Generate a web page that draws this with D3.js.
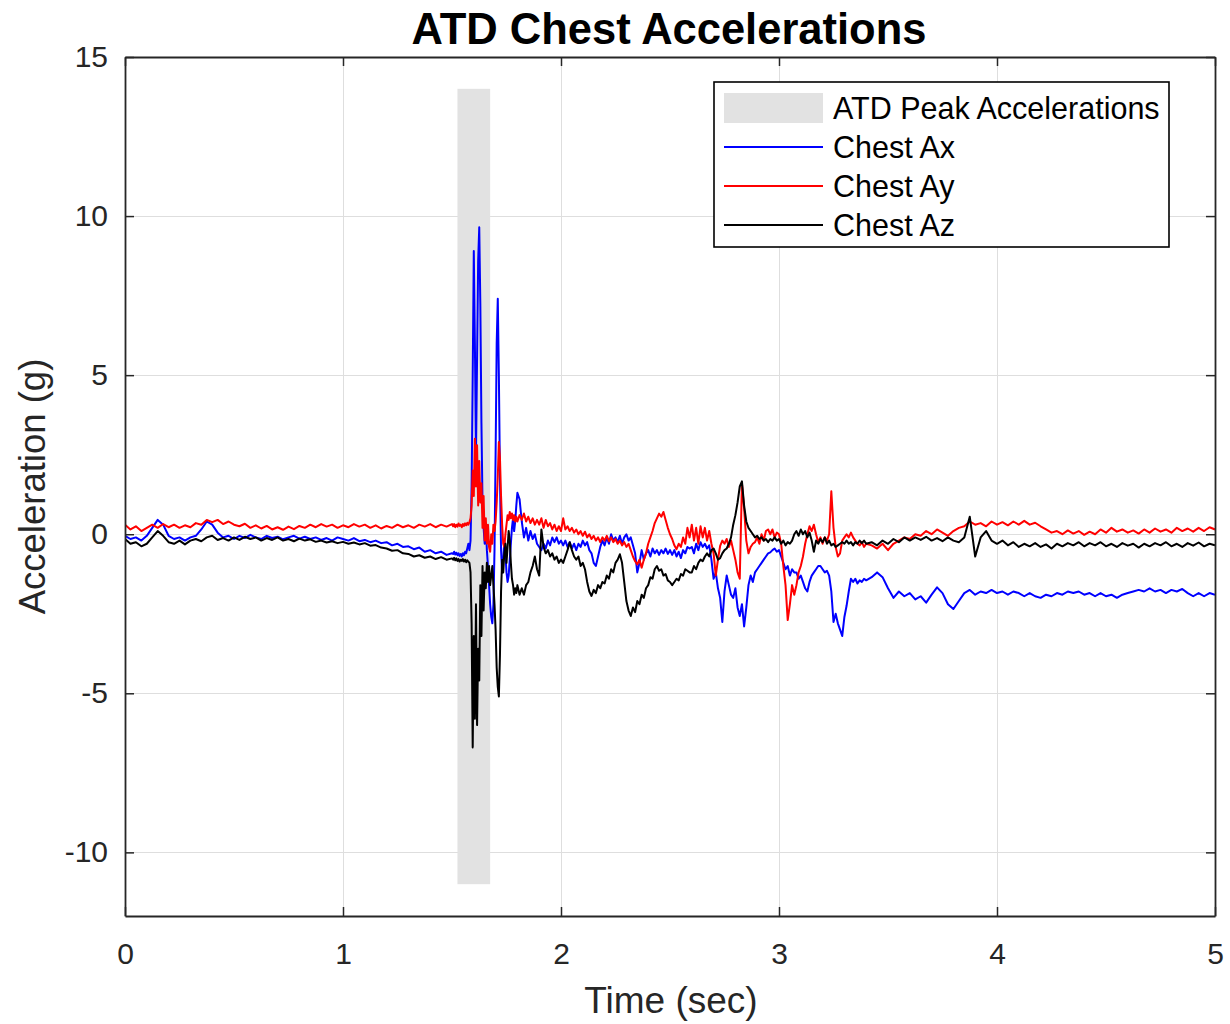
<!DOCTYPE html>
<html>
<head>
<meta charset="utf-8">
<script src="https://cdn.jsdelivr.net/npm/d3@7/dist/d3.min.js"></script>
<style>
  html, body { margin: 0; padding: 0; background: #ffffff; }
  svg { display: block; }
  text { font-family: "Liberation Sans", Arial, Helvetica, sans-serif; }
</style>
</head>
<body>
<svg id="chart" width="1230" height="1024"></svg>
<script>
// ---------------- DATA ----------------
const chartTitle = "ATD Chest Accelerations";
const xLabel = "Time (sec)";
const yLabel = "Acceleration (g)";
const xTicks = [0, 1, 2, 3, 4, 5];
const yTicks = [-10, -5, 0, 5, 10, 15];
const xDomain = [0, 5];
const yDomain = [-12, 15];
const seriesNames = ["Chest Ax", "Chest Ay", "Chest Az"];
const bandName = "ATD Peak Accelerations";
const peakWindow = [1.525, 1.675];   // time span of the shaded band
const peakRange = [-11, 14];         // vertical span of the shaded band

// sample times (s)
const timeA = [0,0.025,0.05,0.075,0.1,0.125,0.15,0.175,0.2,0.225,
  0.25,0.275,0.3,0.325,0.35,0.375,0.4,0.425,0.45,0.475,
  0.5,0.525,0.55,0.575,0.6,0.625,0.65,0.675,0.7,0.725,
  0.75,0.775,0.8,0.825,0.85,0.875,0.9,0.925,0.95,0.975,
  1.0,1.025,1.05,1.075,1.1,1.125,1.15,1.175,1.2,1.225,
  1.25,1.275,1.3,1.325,1.35,1.375,1.4,1.425,1.45,1.475,
  1.5];
const timeB = [1.505,1.51,1.515,1.52,1.525,1.53,1.535,1.54,1.545,1.55,
  1.555,1.56,1.565,1.57,1.575,1.58,1.585,1.59,1.595,1.6,
  1.605,1.61,1.615,1.62,1.625,1.63,1.635,1.64,1.645,1.65,
  1.655,1.66,1.665,1.67,1.675,1.68,1.685,1.69,1.695,1.7,
  1.705,1.71,1.715,1.72,1.725,1.73,1.735,1.74,1.745,1.75,
  1.755,1.76,1.765,1.77,1.775,1.78,1.785,1.79,1.795,1.8];
const timeC = [1.81,1.82,1.83,1.84,1.85,1.86,1.87,1.88,1.89,1.9,
  1.91,1.92,1.93,1.94,1.95,1.96,1.97,1.98,1.99,2.0,
  2.01,2.02,2.03,2.04,2.05,2.06,2.07,2.08,2.09,2.1,
  2.11,2.12,2.13,2.14,2.15,2.16,2.17,2.18,2.19,2.2,
  2.21,2.22,2.23,2.24,2.25,2.26,2.27,2.28,2.29,2.3,
  2.31,2.32,2.33,2.34,2.35,2.36,2.37,2.38,2.39,2.4,
  2.41,2.42,2.43,2.44,2.45,2.46,2.47,2.48,2.49,2.5,
  2.51,2.52,2.53,2.54,2.55,2.56,2.57,2.58,2.59,2.6,
  2.61,2.62,2.63,2.64,2.65,2.66,2.67,2.68,2.69,2.7,
  2.71,2.72,2.73,2.74,2.75,2.76,2.77,2.78,2.79,2.8,
  2.81,2.82,2.83,2.84,2.85,2.86,2.87,2.88,2.89,2.9,
  2.91,2.92,2.93,2.94,2.95,2.96,2.97,2.98,2.99,3.0,
  3.01,3.02,3.03,3.04,3.05,3.06,3.07,3.08,3.09,3.1,
  3.11,3.12,3.13,3.14,3.15,3.16,3.17,3.18,3.19,3.2,
  3.21,3.22,3.23,3.24,3.25,3.26,3.27,3.28,3.29,3.3,
  3.31,3.32,3.33,3.34,3.35,3.36,3.37,3.38,3.39,3.4];
const timeD = [3.425,3.45,3.475,3.5,3.525,3.55,3.575,3.6,3.625,3.65,
  3.675,3.7,3.725,3.75,3.775,3.8,3.825,3.85,3.875,3.9,
  3.925,3.95,3.975,4.0,4.025,4.05,4.075,4.1,4.125,4.15,
  4.175,4.2,4.225,4.25,4.275,4.3,4.325,4.35,4.375,4.4,
  4.425,4.45,4.475,4.5,4.525,4.55,4.575,4.6,4.625,4.65,
  4.675,4.7,4.725,4.75,4.775,4.8,4.825,4.85,4.875,4.9,
  4.925,4.95,4.975,5.0];

// Chest Ax (g)
const axA = [-0.05,-0.15,-0.1,-0.2,-0.05,0.2,0.45,0.3,-0.05,-0.15,
  -0.1,-0.2,-0.1,-0.05,0.15,0.4,0.3,0.05,-0.1,-0.05,
  -0.15,-0.05,-0.12,-0.02,-0.1,-0.15,-0.05,-0.12,-0.08,-0.16,
  -0.1,-0.05,-0.14,-0.08,-0.15,-0.1,-0.18,-0.12,-0.2,-0.1,
  -0.15,-0.2,-0.12,-0.22,-0.18,-0.25,-0.2,-0.28,-0.25,-0.35,
  -0.3,-0.4,-0.38,-0.47,-0.42,-0.55,-0.5,-0.6,-0.55,-0.65,
  -0.6];
const axB = [-0.62,-0.55,-0.64,-0.58,-0.66,-0.6,-0.68,-0.62,-0.7,-0.6,
  -0.66,-0.55,-0.6,-0.45,-0.3,-0.5,-0.2,1.5,5.0,8.9,
  6.0,2.5,5.5,8.6,9.65,7.2,3.5,1.0,0.2,-0.3,
  0.3,-0.5,-1.0,-1.6,-2.2,-2.6,-2.8,-2.2,-0.5,2.5,
  6.0,7.4,5.0,1.8,-0.5,-1.2,-0.8,-0.2,-0.6,-1.2,
  -1.5,-1.3,-0.8,-0.3,0.2,0.5,0.1,0.4,0.9,1.3];
const axC = [1.1,0.4,-0.1,0.2,-0.2,0.1,-0.15,0.0,-0.3,-0.4,
  -0.5,-0.3,-0.45,-0.2,-0.35,-0.1,-0.25,-0.1,-0.3,-0.2,
  -0.35,-0.2,-0.4,-0.25,-0.45,-0.3,-0.5,-0.3,-0.4,-0.2,
  -0.35,-0.25,-0.5,-0.6,-0.9,-1.0,-0.7,-0.4,-0.2,-0.35,
  -0.1,-0.3,0.0,-0.2,-0.1,-0.25,-0.05,-0.3,-0.1,0.0,
  -0.2,-0.1,-0.35,-0.6,-1.2,-0.9,-0.5,-0.8,-0.6,-0.5,
  -0.7,-0.45,-0.6,-0.5,-0.65,-0.5,-0.6,-0.45,-0.62,-0.5,
  -0.65,-0.5,-0.7,-0.55,-0.75,-0.5,-0.6,-0.4,-0.45,-0.4,
  -0.6,-0.3,-0.5,-0.25,-0.4,-0.3,-0.45,-0.35,-0.8,-1.4,
  -1.2,-1.7,-2.0,-2.76,-1.8,-1.3,-1.6,-1.9,-2.0,-1.7,
  -2.3,-2.57,-2.2,-2.9,-2.3,-1.6,-1.3,-1.5,-1.2,-1.1,
  -1.0,-0.9,-0.8,-0.7,-0.6,-0.57,-0.5,-0.45,-0.55,-0.5,
  -0.7,-0.9,-1.1,-1.0,-1.3,-1.1,-1.2,-1.2,-1.4,-1.3,
  -1.5,-1.7,-1.8,-1.5,-1.3,-1.2,-1.1,-1.0,-1.0,-1.1,
  -1.2,-1.15,-1.3,-1.8,-2.76,-2.5,-2.8,-3.0,-3.2,-2.6,
  -2.25,-1.8,-1.4,-1.5,-1.4,-1.55,-1.45,-1.5,-1.4,-1.45];
const axD = [-1.35,-1.2,-1.35,-1.7,-2.0,-1.8,-1.95,-1.85,-2.05,-1.95,
  -2.15,-1.9,-1.67,-1.85,-2.2,-2.35,-2.1,-1.85,-1.75,-1.9,
  -1.8,-1.85,-1.75,-1.85,-1.8,-1.9,-1.8,-1.85,-1.95,-1.85,
  -1.95,-2.0,-1.9,-1.95,-1.85,-1.9,-1.8,-1.85,-1.8,-1.9,
  -1.85,-1.95,-1.85,-1.95,-1.9,-2.0,-1.9,-1.85,-1.8,-1.75,
  -1.8,-1.7,-1.8,-1.75,-1.85,-1.75,-1.8,-1.72,-1.85,-1.95,
  -1.85,-1.95,-1.85,-1.9];

// Chest Ay (g)
const ayA = [0.3,0.15,0.25,0.1,0.2,0.3,0.2,0.32,0.22,0.3,
  0.2,0.28,0.22,0.35,0.3,0.45,0.38,0.45,0.32,0.4,
  0.3,0.25,0.33,0.2,0.28,0.18,0.26,0.15,0.22,0.14,
  0.24,0.16,0.26,0.2,0.3,0.22,0.32,0.24,0.3,0.2,
  0.28,0.22,0.32,0.24,0.3,0.2,0.28,0.18,0.26,0.2,
  0.3,0.22,0.28,0.2,0.3,0.24,0.32,0.22,0.3,0.24,
  0.32];
const ayB = [0.25,0.32,0.22,0.3,0.24,0.34,0.26,0.3,0.22,0.32,
  0.26,0.34,0.28,0.36,0.3,0.38,0.5,0.9,2.0,1.2,
  3.0,1.5,2.8,0.9,2.3,1.0,1.6,0.2,1.2,-0.2,
  0.5,-0.3,0.3,-0.4,-0.55,0.0,-0.3,0.3,0.1,0.4,
  1.0,1.8,2.9,2.4,1.2,0.3,-0.3,-0.4,0.0,0.3,
  0.6,0.45,0.7,0.5,0.65,0.45,0.6,0.4,0.55,0.4];
const ayC = [0.6,0.45,0.65,0.4,0.55,0.35,0.5,0.3,0.45,0.3,
  0.5,0.2,0.45,0.25,0.35,0.15,0.3,0.1,0.25,0.1,
  0.5,0.15,0.25,0.1,0.2,0.05,0.15,0.0,0.1,-0.05,
  0.08,-0.1,0.0,-0.15,-0.05,-0.2,-0.1,-0.25,-0.1,-0.2,
  -0.05,-0.22,-0.1,-0.25,-0.15,-0.3,-0.2,-0.35,-0.25,-0.4,
  -0.3,-0.5,-0.7,-0.85,-0.95,-0.8,-1.05,-0.8,-0.6,-0.3,
  -0.1,0.1,0.35,0.5,0.65,0.55,0.7,0.45,0.2,0.0,
  -0.15,-0.35,-0.47,-0.3,-0.4,-0.1,-0.3,0.2,-0.1,0.3,
  -0.2,0.2,-0.3,0.25,-0.1,0.2,-0.2,0.1,-0.3,-0.6,
  -1.3,-0.8,-0.37,-0.2,-0.3,-0.15,-0.4,-0.2,-0.5,-0.8,
  -1.2,-1.4,1.6,0.8,-0.2,-0.6,-0.4,-0.3,-0.25,-0.1,
  -0.3,0.0,-0.2,0.1,0.15,0.0,0.15,-0.1,0.05,0.0,
  -0.3,-1.0,-1.6,-2.7,-2.2,-1.6,-1.9,-1.6,-1.2,-1.0,
  -0.7,-0.3,0.0,0.25,0.1,0.3,0.0,-0.25,-0.1,-0.3,
  -0.1,-0.2,0.0,1.35,0.2,-0.4,-0.7,-0.6,-0.2,-0.1,
  0.0,-0.1,0.05,-0.1,-0.2,-0.3,-0.35,-0.25,-0.4,-0.3];
const ayD = [-0.35,-0.45,-0.3,-0.5,-0.3,-0.2,-0.1,-0.15,0.0,-0.05,
  0.1,0.0,0.15,0.05,-0.05,0.1,0.2,0.25,0.4,0.3,
  0.35,0.25,0.4,0.3,0.38,0.28,0.4,0.3,0.42,0.3,
  0.36,0.25,0.15,0.05,0.1,0.0,0.12,0.02,0.1,-0.02,
  0.08,0.0,0.15,0.05,0.2,0.08,0.15,0.05,0.12,0.02,
  0.15,0.05,0.18,0.08,0.15,0.05,0.2,0.1,0.18,0.08,
  0.2,0.1,0.22,0.15];

// Chest Az (g)
const azA = [-0.15,-0.3,-0.25,-0.38,-0.3,-0.1,0.1,-0.05,-0.25,-0.3,
  -0.2,-0.32,-0.2,-0.15,-0.22,-0.1,-0.05,-0.18,-0.12,-0.2,
  -0.1,-0.18,-0.08,-0.15,-0.1,-0.2,-0.12,-0.18,-0.1,-0.2,
  -0.15,-0.22,-0.14,-0.2,-0.16,-0.24,-0.2,-0.26,-0.22,-0.28,
  -0.24,-0.3,-0.26,-0.32,-0.28,-0.36,-0.34,-0.42,-0.45,-0.52,
  -0.5,-0.6,-0.62,-0.7,-0.66,-0.74,-0.7,-0.78,-0.72,-0.8,
  -0.76];
const azB = [-0.8,-0.74,-0.82,-0.76,-0.84,-0.78,-0.86,-0.8,-0.84,-0.78,
  -0.86,-0.8,-0.88,-0.82,-0.86,-0.9,-1.2,-2.8,-6.7,-3.2,
  -5.8,-2.2,-6.0,-3.6,-4.6,-1.6,-3.2,-1.0,-2.4,-1.2,
  -1.7,-0.9,-1.5,-1.0,-1.6,-1.3,-1.0,-1.6,-2.2,-3.0,
  -4.2,-4.8,-5.1,-3.8,-1.8,-0.8,-1.2,-0.6,-0.3,-0.9,
  -0.4,0.1,-0.2,-0.9,-1.4,-1.6,-1.9,-1.7,-1.85,-1.6];
const azC = [-1.9,-1.7,-1.9,-1.6,-1.5,-1.2,-1.0,-0.7,-1.1,-1.3,
  0.15,-0.4,-0.6,-0.5,-0.7,-0.6,-0.8,-0.7,-0.9,-0.8,
  -0.9,-0.7,-0.5,-0.25,-0.5,-0.7,-0.8,-0.7,-1.0,-0.9,
  -1.1,-1.5,-1.8,-1.94,-1.75,-1.85,-1.6,-1.7,-1.5,-1.55,
  -1.3,-1.4,-1.1,-1.2,-0.9,-0.8,-0.63,-0.9,-1.5,-2.1,
  -2.4,-2.57,-2.3,-2.45,-2.1,-2.2,-1.9,-2.0,-1.7,-1.6,
  -1.35,-1.4,-1.1,-1.0,-1.15,-1.1,-1.3,-1.25,-1.45,-1.5,
  -1.6,-1.5,-1.4,-1.45,-1.25,-1.3,-1.1,-1.15,-1.2,-1.2,
  -1.0,-1.1,-0.9,-0.8,-0.85,-0.7,-0.6,-0.7,-0.5,-0.45,
  -0.6,-0.8,-0.75,-0.6,-0.5,-0.45,-0.3,-0.1,0.3,0.6,
  1.0,1.5,1.66,0.9,0.4,0.2,0.1,0.0,-0.1,-0.05,
  -0.15,-0.1,-0.2,-0.15,-0.25,-0.15,-0.2,-0.1,-0.2,-0.15,
  -0.3,-0.2,-0.35,-0.25,-0.3,-0.2,0.0,0.1,-0.05,0.15,
  0.0,0.1,-0.1,0.05,-0.2,-0.55,-0.2,-0.3,-0.15,-0.25,
  -0.1,-0.3,-0.2,-0.35,-0.3,-0.4,-0.35,-0.3,-0.25,-0.3,
  -0.2,-0.3,-0.25,-0.35,-0.25,-0.3,-0.2,-0.28,-0.2,-0.3];
const azD = [-0.25,-0.35,-0.2,-0.3,-0.15,-0.25,-0.1,-0.2,-0.1,-0.18,
  -0.08,-0.2,-0.12,-0.22,-0.1,-0.2,-0.25,-0.1,0.55,-0.7,
  -0.1,0.1,-0.2,-0.3,-0.2,-0.35,-0.25,-0.4,-0.3,-0.38,
  -0.28,-0.4,-0.32,-0.45,-0.3,-0.38,-0.28,-0.35,-0.25,-0.38,
  -0.28,-0.35,-0.25,-0.38,-0.3,-0.4,-0.28,-0.36,-0.3,-0.42,
  -0.3,-0.38,-0.28,-0.35,-0.25,-0.38,-0.3,-0.4,-0.28,-0.36,
  -0.26,-0.38,-0.3,-0.35];

const seriesColors = ["#0000ff", "#ff0000", "#000000"];
const bandColor = "#e2e2e2";

// ---------------- BUILD ----------------
const time = [...timeA, ...timeB, ...timeC, ...timeD];
const chestAx = [...axA, ...axB, ...axC, ...axD];
const chestAy = [...ayA, ...ayB, ...ayC, ...ayD];
const chestAz = [...azA, ...azB, ...azC, ...azD];
const seriesValues = [chestAx, chestAy, chestAz];

const W = 1230, H = 1024;
const plot = { left: 125, right: 1215, top: 57, bottom: 916 };
const axisColor = "#262626";
const fontStack = '"Liberation Sans", Arial, Helvetica, sans-serif';

const svg = d3.select("#chart");
svg.append("rect").attr("width", W).attr("height", H).attr("fill", "#fff");

const x = d3.scaleLinear().domain(xDomain).range([plot.left, plot.right]);
const y = d3.scaleLinear().domain(yDomain).range([plot.bottom, plot.top]);

svg.append("defs").append("clipPath").attr("id", "clip")
  .append("rect")
  .attr("x", plot.left).attr("y", plot.top)
  .attr("width", plot.right - plot.left).attr("height", plot.bottom - plot.top);

// grid
const grid = svg.append("g").attr("stroke", "#dedede").attr("stroke-width", 1);
grid.selectAll("line.vx").data(xTicks).join("line")
  .attr("x1", d => Math.round(x(d)) + 0.5).attr("x2", d => Math.round(x(d)) + 0.5)
  .attr("y1", plot.top).attr("y2", plot.bottom);
grid.selectAll("line.hy").data(yTicks).join("line")
  .attr("y1", d => Math.round(y(d)) + 0.5).attr("y2", d => Math.round(y(d)) + 0.5)
  .attr("x1", plot.left).attr("x2", plot.right);

// shaded peak band
svg.append("rect")
  .attr("x", x(peakWindow[0]))
  .attr("width", x(peakWindow[1]) - x(peakWindow[0]))
  .attr("y", y(peakRange[1]))
  .attr("height", y(peakRange[0]) - y(peakRange[1]))
  .attr("fill", bandColor);

// lines
const line = d3.line().x(d => x(d[0])).y(d => y(d[1]));
const lines = svg.append("g").attr("clip-path", "url(#clip)");
seriesValues.forEach((vals, i) => {
  const n = Math.min(time.length, vals.length);
  if (time.length !== vals.length) console.warn("length mismatch", i, time.length, vals.length);
  const pts = d3.range(n).map(k => [time[k], vals[k]]);
  lines.append("path")
    .datum(pts)
    .attr("d", line)
    .attr("fill", "none")
    .attr("stroke", seriesColors[i])
    .attr("stroke-width", 2)
    .attr("stroke-linejoin", "round");
});

// axes (box with inward ticks)
const tickLen = 9;
const plainFmt = d => String(d);
const xAxisB = d3.axisBottom(x).tickValues(xTicks).tickSizeInner(-tickLen).tickSizeOuter(0).tickFormat(plainFmt).tickPadding(27);
const xAxisT = d3.axisTop(x).tickValues(xTicks).tickSizeInner(-tickLen).tickSizeOuter(0).tickFormat("");
const yAxisL = d3.axisLeft(y).tickValues(yTicks).tickSizeInner(-tickLen).tickSizeOuter(0).tickFormat(plainFmt).tickPadding(17);
const yAxisR = d3.axisRight(y).tickValues(yTicks).tickSizeInner(-tickLen).tickSizeOuter(0).tickFormat("");

function styleAxis(g) {
  g.select(".domain").attr("stroke", axisColor).attr("stroke-width", 1.8);
  g.selectAll(".tick line").attr("stroke", axisColor).attr("stroke-width", 1.5);
  g.selectAll(".tick text").attr("fill", axisColor).attr("font-size", 30)
    .attr("font-family", fontStack);
}
svg.append("g").attr("transform", `translate(0,${plot.bottom})`).call(xAxisB).call(styleAxis);
svg.append("g").attr("transform", `translate(0,${plot.top})`).call(xAxisT).call(styleAxis);
svg.append("g").attr("transform", `translate(${plot.left},0)`).call(yAxisL).call(styleAxis);
svg.append("g").attr("transform", `translate(${plot.right},0)`).call(yAxisR).call(styleAxis);

// title & axis labels
svg.append("text")
  .attr("x", (plot.left + plot.right) / 2 - 1).attr("y", 44)
  .attr("text-anchor", "middle").attr("font-size", 43.5).attr("font-weight", "bold")
  .attr("fill", "#000").text(chartTitle);
svg.append("text")
  .attr("x", (plot.left + plot.right) / 2 + 1).attr("y", 1013)
  .attr("text-anchor", "middle").attr("font-size", 37)
  .attr("fill", axisColor).text(xLabel);
svg.append("text")
  .attr("transform", `translate(45,${(plot.top + plot.bottom) / 2}) rotate(-90)`)
  .attr("text-anchor", "middle").attr("font-size", 36.5)
  .attr("fill", axisColor).text(yLabel);

// legend
const lg = svg.append("g");
lg.append("rect").attr("x", 714).attr("y", 82).attr("width", 455).attr("height", 165)
  .attr("fill", "#fff").attr("stroke", "#000").attr("stroke-width", 1.6);
const rowY = [108, 147, 186, 225];
lg.append("rect").attr("x", 724).attr("y", rowY[0] - 15).attr("width", 99).attr("height", 30)
  .attr("fill", bandColor);
lg.append("text").attr("x", 833).attr("y", rowY[0] + 10.5).attr("font-size", 30.5)
  .attr("fill", "#000").text(bandName);
seriesNames.forEach((name, i) => {
  const ry = rowY[i + 1];
  lg.append("line").attr("x1", 724).attr("x2", 823).attr("y1", ry).attr("y2", ry)
    .attr("stroke", seriesColors[i]).attr("stroke-width", 2);
  lg.append("text").attr("x", 833).attr("y", ry + 10.5).attr("font-size", 30.5)
    .attr("fill", "#000").text(name);
});
</script>
</body>
</html>
